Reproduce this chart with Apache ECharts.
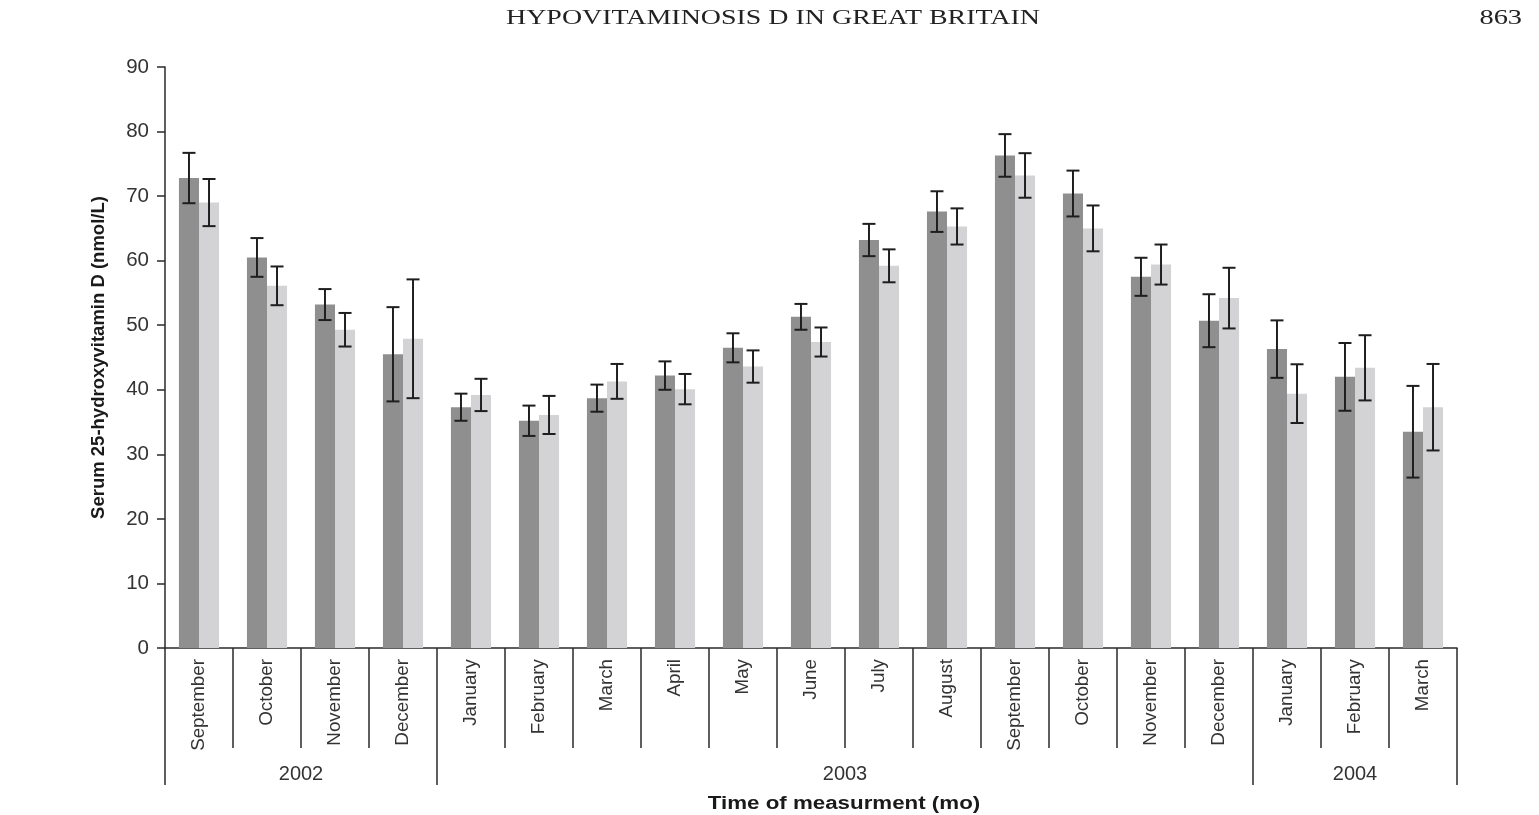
<!DOCTYPE html>
<html>
<head>
<meta charset="utf-8">
<script src="https://cdn.jsdelivr.net/npm/echarts@6/dist/echarts.min.js"></script>
<style>
  html, body { margin: 0; padding: 0; background: #ffffff; }
  #chart { width: 1539px; height: 815px; }
</style>
</head>
<body>
<div id="chart"></div>
<script>
// Month of each measurement, Sept 2002 – March 2004
const months = ['September', 'October', 'November', 'December',
  'January', 'February', 'March', 'April', 'May', 'June', 'July', 'August',
  'September', 'October', 'November', 'December',
  'January', 'February', 'March'];

// Year groups under the month labels
const years = ['2002', '2003', '2004'];
const monthsPerYear = [4, 12, 3];

// Mean serum 25(OH)D (nmol/L) and error half-widths, dark group
const groupA = [72.8, 60.5, 53.2, 45.5, 37.3, 35.2, 38.7, 42.2, 46.5, 51.3,
  63.2, 67.6, 76.3, 70.4, 57.5, 50.7, 46.3, 42.0, 33.5];
const groupAErr = [3.9, 3.0, 2.4, 7.3, 2.1, 2.35, 2.1, 2.2, 2.25, 2.0,
  2.5, 3.15, 3.3, 3.55, 2.95, 4.1, 4.45, 5.25, 7.1];

// Mean serum 25(OH)D (nmol/L) and error half-widths, light group
const groupB = [69.0, 56.1, 49.3, 47.9, 39.2, 36.1, 41.3, 40.1, 43.6, 47.4,
  59.2, 65.3, 73.2, 65.0, 59.4, 54.2, 39.4, 43.4, 37.3];
const groupBErr = [3.65, 3.0, 2.6, 9.2, 2.5, 2.95, 2.7, 2.35, 2.5, 2.25,
  2.55, 2.8, 3.45, 3.55, 3.1, 4.7, 4.55, 5.05, 6.7];

// Value axis range
const yMin = 0, yMax = 90, yStep = 10;

const CAT_GAP = 0.41;
const FONT = '"Liberation Sans", Arial, Helvetica, sans-serif';
const INK = '#2a2a2a';

// Half-month slots: separators sit on even slots, year names on span centres
const yearSlots = [];
const yearLabelAt = {};
const yearTickAt = new Set();
let start = 0;
years.forEach(function (y, k) {
  yearTickAt.add(start * 2);
  yearLabelAt[start * 2 + monthsPerYear[k]] = y;
  start += monthsPerYear[k];
});
yearTickAt.add(start * 2);
for (let i = 0; i <= start * 2; i++) yearSlots.push(yearLabelAt[i] || '');

function errorBars(values, errs, side) {
  return {
    type: 'custom',
    xAxisIndex: 0,
    yAxisIndex: 0,
    z: 10,
    silent: true,
    encode: { x: 0, y: [1, 2] },
    data: values.map(function (v, i) { return [i, v - errs[i], v + errs[i]]; }),
    renderItem: function (params, api) {
      const i = api.value(0);
      const lo = api.coord([i, api.value(1)]);
      const hi = api.coord([i, api.value(2)]);
      const band = api.size([1, 0])[0];
      const barW = band * (1 - CAT_GAP) / 2;
      const x = lo[0] + side * barW / 2;
      const cap = 6.5;
      const st = { stroke: '#1e1e1e', lineWidth: 2 };
      return {
        type: 'group',
        children: [
          { type: 'line', shape: { x1: x, y1: hi[1], x2: x, y2: lo[1] }, style: st },
          { type: 'line', shape: { x1: x - cap, y1: hi[1], x2: x + cap, y2: hi[1] }, style: st },
          { type: 'line', shape: { x1: x - cap, y1: lo[1], x2: x + cap, y2: lo[1] }, style: st }
        ]
      };
    }
  };
}

const chart = echarts.init(document.getElementById('chart'), null, { renderer: 'canvas' });

chart.setOption({
  backgroundColor: '#ffffff',
  animation: false,
  grid: { left: 165, right: 82, top: 67, bottom: 167, containLabel: false },
  xAxis: [
    {
      type: 'category',
      data: months,
      position: 'bottom',
      boundaryGap: true,
      axisLine: { show: true, lineStyle: { color: INK, width: 1.5 } },
      axisTick: { show: true, interval: 0, length: 100, lineStyle: { color: INK, width: 1.5 } },
      axisLabel: {
        interval: 0, rotate: 90, margin: 11,
        fontFamily: FONT, fontSize: 18.8, color: '#333'
      },
      splitLine: { show: false }
    },
    {
      type: 'category',
      data: yearSlots,
      position: 'bottom',
      boundaryGap: false,
      axisLine: { show: false },
      axisTick: {
        show: true, length: 137,
        interval: function (idx) { return yearTickAt.has(idx); },
        lineStyle: { color: INK, width: 1.5 }
      },
      axisLabel: {
        interval: function (idx, val) { return val !== ''; },
        margin: 116, fontFamily: FONT, fontSize: 20, color: '#333'
      },
      splitLine: { show: false }
    }
  ],
  yAxis: {
    type: 'value',
    min: yMin, max: yMax, interval: yStep,
    name: 'Serum 25-hydroxyvitamin D (nmol/L)',
    nameLocation: 'middle',
    nameGap: 57,
    nameRotate: 90,
    nameTextStyle: { fontFamily: FONT, fontSize: 18.5, fontWeight: 'bold', color: '#1a1a1a' },
    axisLine: { show: true, lineStyle: { color: INK, width: 1.5 } },
    axisTick: { show: true, length: 8, lineStyle: { color: INK, width: 1.5 } },
    axisLabel: { margin: 16, fontFamily: FONT, fontSize: 20.5, color: '#333' },
    splitLine: { show: false }
  },
  series: [
    {
      type: 'bar', xAxisIndex: 0, data: groupA,
      barGap: '0%', barCategoryGap: (CAT_GAP * 100) + '%',
      itemStyle: { color: '#8f8f8f' }
    },
    {
      type: 'bar', xAxisIndex: 0, data: groupB,
      barGap: '0%', barCategoryGap: (CAT_GAP * 100) + '%',
      itemStyle: { color: '#d3d3d6' }
    },
    errorBars(groupA, groupAErr, -1),
    errorBars(groupB, groupBErr, 1)
  ],
  graphic: [
    {
      type: 'text', x: 773, y: 8, scaleX: 1.33,
      style: {
        text: 'HYPOVITAMINOSIS D IN GREAT BRITAIN',
        font: '21px "Liberation Serif", "Times New Roman", serif',
        fill: '#222', textAlign: 'center', textVerticalAlign: 'top'
      }
    },
    {
      type: 'text', x: 1522, y: 8, scaleX: 1.35,
      style: {
        text: '863',
        font: '21px "Liberation Serif", "Times New Roman", serif',
        fill: '#222', textAlign: 'right', textVerticalAlign: 'top'
      }
    },
    {
      type: 'text', x: 844, y: 795, scaleX: 1.24,
      style: {
        text: 'Time of measurment (mo)',
        font: 'bold 18px ' + FONT,
        fill: '#1a1a1a', textAlign: 'center', textVerticalAlign: 'top'
      }
    }
  ]
});
</script>
</body>
</html>
